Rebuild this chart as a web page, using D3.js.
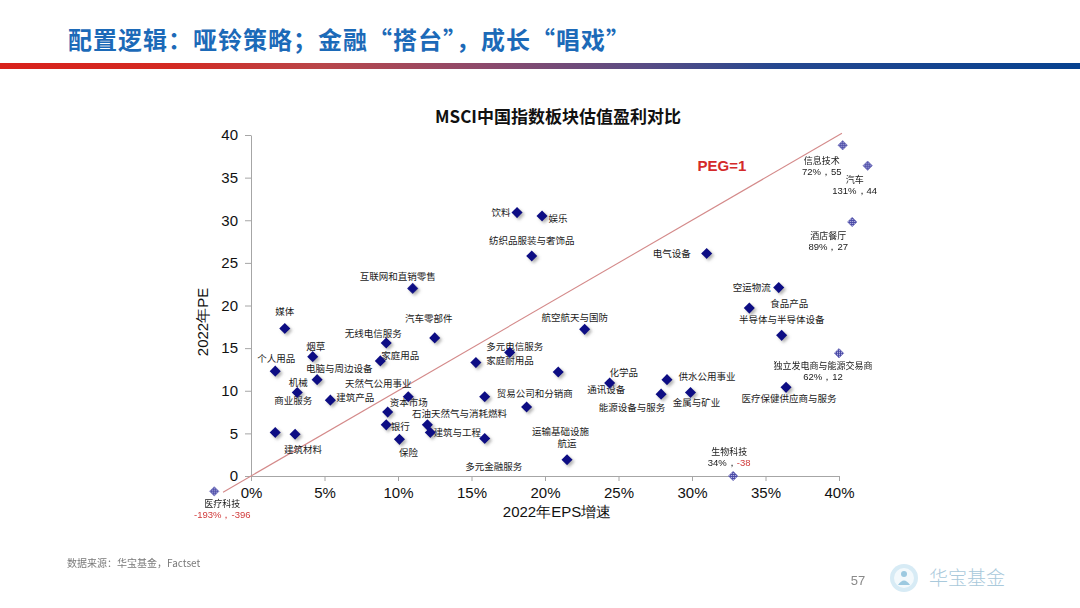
<!DOCTYPE html>
<html><head><meta charset="utf-8">
<script src="https://cdn.jsdelivr.net/npm/d3@7"></script>
<style>
html,body{margin:0;padding:0;background:#fff;}
svg{display:block;}
</style></head>
<body>
<svg id="c" width="1080" height="608"></svg>
<script>
// ---------- data ----------
const sectors = ['媒体','个人用品','烟草','电脑与周边设备','机械','建筑产品','商业服务','建筑材料',
 '无线电信服务','家庭用品','汽车零部件','天然气公用事业','资本市场','银行','保险','石油天然气与消耗燃料',
 '建筑与工程','家庭耐用品','多元电信服务','贸易公司和分销商','多元金融服务','运输基础设施','通讯设备',
 '航空航天与国防','化学品','航运','供水公用事业','能源设备与服务','金属与矿业','空运物流','食品产品',
 '半导体与半导体设备','医疗保健供应商与服务','电气设备','饮料','娱乐','纺织品服装与奢饰品','互联网和直销零售'];
const epsGrowth = [2.3,1.65,4.2,4.5,3.15,5.4,1.65,3.0,
 9.2,8.8,12.5,10.7,9.3,9.2,10.1,12.0,
 12.2,15.3,17.6,15.9,15.9,18.75,20.9,
 22.7,24.4,21.5,28.3,27.9,29.9,35.9,33.9,
 36.1,36.4,31.0,18.1,19.8,19.1,11.0];
const pe2022 = [17.3,12.3,14.0,11.3,9.8,8.9,5.1,4.9,
 15.6,13.5,16.2,9.3,7.5,6.0,4.3,6.0,
 5.1,13.3,14.5,9.3,4.4,8.1,12.2,
 17.2,10.9,1.9,11.3,9.6,9.8,22.1,19.7,
 16.5,10.4,26.1,30.9,30.5,25.8,22.0];

// outliers (actual values, and where they are pinned on the chart edge)
const outlierNames = ['信息技术','汽车','酒店餐厅','独立发电商与能源交易商','生物科技','医疗科技'];
const outlierEPS = [72,131,89,62,34,-193];
const outlierPE = [55,44,27,12,-38,-396];
const outlierPlotEPS = [40.25,41.95,40.9,40.0,32.8,-2.5];
const outlierPlotPE = [38.8,36.4,29.8,14.4,0,-1.8];

const xTicks = [0,5,10,15,20,25,30,35,40];
const yTicks = [0,5,10,15,20,25,30,35,40];
const pegRange = [-1.9, 40.2];

// ---------- layout (label placement in px) ----------
const labelOffset = {
 '媒体':[0,-17],'个人用品':[1,-13],'烟草':[3,-10],'电脑与周边设备':[22,-11],'机械':[1,-10],'建筑产品':[25,-3],
 '商业服务':[18,-32],'建筑材料':[8,15],'无线电信服务':[-13,-10],'家庭用品':[20,-5],'汽车零部件':[-6,-19],
 '天然气公用事业':[-30,-13.5],'资本市场':[21,-10],'银行':[14,2],'保险':[9,13],'石油天然气与消耗燃料':[32,-11],
 '建筑与工程':[27,0],'家庭耐用品':[34,-2],'多元电信服务':[5,-6],'贸易公司和分销商':[50,-3],'多元金融服务':[9,28],
 '运输基础设施':[34,25],'通讯设备':[48,18],'航空航天与国防':[-10,-12],'化学品':[14,-11],'航运':[0,-16],
 '供水公用事业':[40,-3],'能源设备与服务':[-29,13],'金属与矿业':[6,10],'空运物流':[-27,0],'食品产品':[40,-5],
 '半导体与半导体设备':[0,-16],'医疗保健供应商与服务':[3,11],'电气设备':[-35,0],'饮料':[-16,0],'娱乐':[16,3],
 '纺织品服装与奢饰品':[0,-16],'互联网和直销零售':[-15,-12]
};
const outlierOffset = {'信息技术':[-21,15],'汽车':[-13,14],'酒店餐厅':[-24,14],'独立发电商与能源交易商':[-16,12],
 '生物科技':[-4,-25],'医疗科技':[8,12]};

const svg = d3.select('#c');
const CJK = '"Noto Sans CJK SC","Noto Sans",sans-serif';
const ARIAL = '"Liberation Sans",Arial,sans-serif';

// defs
const defs = svg.append('defs');
const grad = defs.append('linearGradient').attr('id','bar').attr('x1','0').attr('x2','1');
[[0,'#d8211b'],[0.16,'#d32a22'],[0.3,'#b8464a'],[0.45,'#8c4a6c'],[0.6,'#574c85'],[0.72,'#25478f'],[1,'#06418f']]
 .forEach(([o,c])=>grad.append('stop').attr('offset',o).attr('stop-color',c));
const sh = defs.append('filter').attr('id','shadow').attr('x','-50%').attr('y','-50%').attr('width','200%').attr('height','200%');
sh.append('feDropShadow').attr('dx',2).attr('dy',2).attr('stdDeviation',1.4).attr('flood-color','#777').attr('flood-opacity',0.55);
const pat = defs.append('pattern').attr('id','hatch').attr('width',2).attr('height',2).attr('patternUnits','userSpaceOnUse')
 .attr('patternTransform','rotate(45)');
pat.append('rect').attr('width',2).attr('height',2).attr('fill','#c9c9ee');
pat.append('rect').attr('width',1).attr('height',2).attr('fill','#4a4aa6');
pat.append('rect').attr('width',2).attr('height',1).attr('fill','#4a4aa6');

// header
svg.append('text').attr('x',68).attr('y',49).attr('font-family',CJK).attr('font-weight',700).attr('font-size',24)
 .attr('letter-spacing',1).attr('fill','#1c6ab8').text('配置逻辑：哑铃策略；金融“搭台”，成长“唱戏”');
svg.append('rect').attr('x',0).attr('y',63).attr('width',1080).attr('height',6).attr('fill','url(#bar)');

// scales
const x = d3.scaleLinear().domain([0,40]).range([251,839]);
const y = d3.scaleLinear().domain([0,40]).range([476,135]);

// chart title
svg.append('text').attr('x',558).attr('y',123).attr('text-anchor','middle').attr('font-family',CJK)
 .attr('font-weight',700).attr('font-size',17).attr('fill','#111').text('MSCI中国指数板块估值盈利对比');

// axes
const yAxis = svg.append('g').attr('transform','translate(251,0)')
 .call(d3.axisLeft(y).tickValues(yTicks).tickSize(6).tickSizeOuter(0).tickFormat(d3.format('d')));
yAxis.select('.domain').attr('stroke','#a6a6a6');
yAxis.selectAll('.tick line').attr('stroke','#a6a6a6');
yAxis.selectAll('.tick text').attr('font-family',ARIAL).attr('font-size',15).attr('fill','#111').attr('x',-13);

const xAxis = svg.append('g').attr('transform','translate(0,476)')
 .call(d3.axisBottom(x).tickValues(xTicks).tickSize(5).tickSizeOuter(0).tickFormat(d=>d+'%'));
xAxis.select('.domain').attr('stroke','#a6a6a6');
xAxis.selectAll('.tick line').attr('stroke','#a6a6a6');
xAxis.selectAll('.tick text').attr('font-family',ARIAL).attr('font-size',15).attr('fill','#111').attr('y',11);

svg.append('text').attr('transform','translate(208,322) rotate(-90)').attr('text-anchor','middle')
 .attr('font-family',ARIAL).attr('font-size',15).attr('fill','#111').text('2022年PE');
svg.append('text').attr('x',557).attr('y',517).attr('text-anchor','middle')
 .attr('font-family',ARIAL).attr('font-size',15).attr('fill','#111').text('2022年EPS增速');

// PEG = 1 line
svg.append('line').attr('x1',x(pegRange[0])).attr('y1',y(pegRange[0])).attr('x2',x(pegRange[1])).attr('y2',y(pegRange[1]))
 .attr('stroke','#d48a8a').attr('stroke-width',1.1);
svg.append('text').attr('x',722).attr('y',171).attr('text-anchor','middle').attr('font-family',ARIAL)
 .attr('font-weight',700).attr('font-size',15).attr('fill','#d42a2a').text('PEG=1');

// data table
const pts = sectors.map((s,i)=>({name:s, eps:epsGrowth[i], pe:pe2022[i]}));

// labels
svg.append('g').selectAll('text').data(pts).join('text')
 .attr('x',d=>x(d.eps)+labelOffset[d.name][0]).attr('y',d=>y(d.pe)+labelOffset[d.name][1]+3.5)
 .attr('text-anchor','middle').attr('font-family',CJK).attr('font-size',9.5).attr('fill','#1a1a1a')
 .text(d=>d.name);

// diamonds
const diamond = d3.symbol().type(d3.symbolSquare).size(62);
svg.append('g').attr('filter','url(#shadow)').selectAll('path').data(pts).join('path')
 .attr('d',diamond).attr('transform',d=>`translate(${x(d.eps)},${y(d.pe)}) rotate(45)`)
 .attr('fill','#0a0a84');

// outliers
const outs = outlierNames.map((n,i)=>({name:n, eps:outlierEPS[i], pe:outlierPE[i], px:outlierPlotEPS[i], py:outlierPlotPE[i]}));
const small = d3.symbol().type(d3.symbolSquare).size(44);
svg.append('g').selectAll('path').data(outs).join('path')
 .attr('d',small).attr('transform',d=>`translate(${x(d.px)},${y(d.py)}) rotate(45)`)
 .attr('fill','url(#hatch)').attr('stroke','#6a6ab8').attr('stroke-width',0.6);
const og = svg.append('g');
outs.forEach(d=>{
  const cx = x(d.px)+outlierOffset[d.name][0], cy = y(d.py)+outlierOffset[d.name][1];
  og.append('text').attr('x',cx).attr('y',cy+3.5).attr('text-anchor','middle').attr('font-family',CJK)
    .attr('font-size',9).attr('fill','#1a1a1a').text(d.name);
  const t = og.append('text').attr('x',cx).attr('y',cy+14.5).attr('text-anchor','middle').attr('font-family',ARIAL)
    .attr('font-size',9.5);
  t.append('tspan').attr('fill',d.eps<0?'#d03a3a':'#1a1a1a').text(d.eps+'%，');
  t.append('tspan').attr('fill',d.pe<0?'#d03a3a':'#1a1a1a').text(d.pe);
});

// footer
svg.append('text').attr('x',67).attr('y',567).attr('font-family',CJK).attr('font-size',10).attr('fill','#7a7a7a')
 .text('数据来源：华宝基金，Factset');
svg.append('text').attr('x',858).attr('y',585).attr('text-anchor','middle').attr('font-family',ARIAL).attr('font-size',13)
 .attr('fill','#8a8a8a').text('57');
const lg = svg.append('g').attr('transform','translate(904,578)');
lg.append('circle').attr('r',14).attr('fill','#d7ebf5');
lg.append('circle').attr('r',10).attr('fill','#ffffff').attr('opacity',0.7);
lg.append('circle').attr('cx',0).attr('cy',-4).attr('r',3).attr('fill','#9cc9e0');
lg.append('path').attr('d','M-6,7 Q0,-2 6,7 Z').attr('fill','#9cc9e0');
svg.append('text').attr('x',929).attr('y',585).attr('font-family',CJK).attr('font-size',19).attr('font-weight',300)
 .attr('fill','#a9c9db').text('华宝基金');
</script>
</body></html>
